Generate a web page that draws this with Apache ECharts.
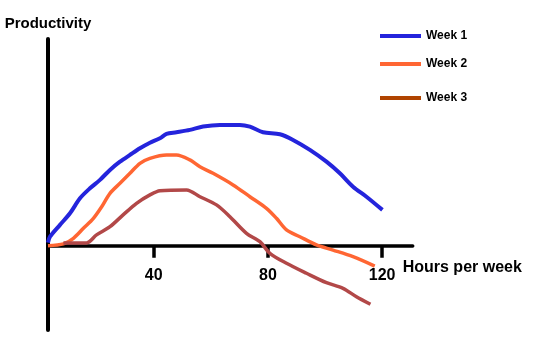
<!DOCTYPE html>
<html><head><meta charset="utf-8">
<script src="https://cdn.jsdelivr.net/npm/echarts@6/dist/echarts.min.js"></script>
<style>html,body{margin:0;padding:0;background:#fff}#c{width:545px;height:340px}</style>
</head><body><div id="c"></div>
<script>
const seriesNames = ['Week 1', 'Week 2', 'Week 3'];
const xTickValues = [40, 80, 120];
const xAxisTitle = 'Hours per week';
const yAxisTitle = 'Productivity';

const week1 = [[3,1.5],[3.7,4.5],[7.2,10.4],[10.7,16.2],[14.2,23.7],[17.7,28.7],[21.2,32.9],[24.7,37.9],[28.2,42],[31.7,45.4],[35.2,48.7],[38.7,51.5],[42.2,53.7],[44.5,55.9],[48,56.7],[52.7,57.9],[57.3,59.6],[63.2,60.4],[70.2,60.4],[73.7,59.5],[78.3,56.7],[84.2,55.7],[88.8,52.9],[94.7,47.9],[100.5,42],[105.2,36.2],[109.8,29.5],[114.5,24.5],[120.1,17.9]];
const week2 = [[3,0],[8.4,0.9],[11.9,3.7],[15.4,8.7],[18.9,13.7],[21.8,19.5],[24.7,26.2],[28.2,31.2],[31.7,36.2],[35.2,41.2],[38.7,43.7],[44.5,45.4],[48,45.4],[52.7,42.9],[56.2,39.5],[60.8,36.2],[67.8,30.4],[73.7,24.5],[79.5,18.7],[83,13.7],[86.5,7.9],[91.2,4.5],[97,0.4],[102.8,-2.2],[109.8,-5.5],[117.4,-10.2]];
const week3 = [[8.4,1.4],[16.5,1.4],[20,5.4],[24.7,9.5],[29.3,15.4],[34,21.2],[38.7,25.4],[42.2,27.5],[51.5,27.9],[56.2,24.5],[62,20.4],[66.7,14.5],[72.5,6.2],[77.2,2],[80.7,-3.8],[86.5,-8.8],[93.5,-13.8],[100.5,-18.5],[106.3,-21.3],[111,-25.5],[115.9,-29.3]];

const lineColors = ['#2424DC', '#FF6633', '#B24848'];
const legendColors = ['#2424DC', '#FF6633', '#B04400'];
const FONT = '"Liberation Sans", Arial, sans-serif';

const seriesData = [week1, week2, week3];
const legendTops = [30, 58, 92];

const chart = echarts.init(document.getElementById('c'), null, {renderer: 'canvas'});
chart.setOption({
  animation: false,
  backgroundColor: '#fff',
  grid: {left: 48, right: 132.3, top: 39, bottom: 10, containLabel: false, outerBoundsMode: 'none'},
  legend: seriesNames.map((n, i) => ({
    data: [{name: n, itemStyle: {color: legendColors[i]}}],
    left: 380, top: legendTops[i], padding: 0,
    icon: 'rect', itemWidth: 41, itemHeight: 4,
    textStyle: {fontFamily: FONT, fontWeight: 'bold', fontSize: 12, color: '#000'}
  })),
  xAxis: {
    type: 'value', min: 3, max: 130.7,
    name: xAxisTitle, nameLocation: 'end', nameGap: -10,
    nameTextStyle: {fontFamily: FONT, fontWeight: 'bold', fontSize: 16, color: '#000', align: 'left', verticalAlign: 'top', padding: [14, 0, 0, 0]},
    axisLine: {show: true, onZero: true, lineStyle: {color: '#000', width: 3.5}},
    axisTick: {show: true, customValues: xTickValues, length: 12, lineStyle: {color: '#000', width: 3.5}},
    axisLabel: {show: true, customValues: xTickValues, hideOverlap: false, margin: -62.5, fontFamily: FONT, fontWeight: 'bold', fontSize: 16, color: '#000'},
    splitLine: {show: false}
  },
  yAxis: {
    type: 'value', min: -42.15, max: 103.35,
    name: yAxisTitle, nameLocation: 'end', nameGap: 8,
    nameTextStyle: {fontFamily: FONT, fontWeight: 'bold', fontSize: 15, color: '#000'},
    axisLine: {show: true, onZero: false, lineStyle: {color: '#000', width: 4}},
    axisTick: {show: false},
    axisLabel: {show: false},
    splitLine: {show: false}
  },
  series: seriesNames.map((n, i) => ({
    name: n, type: 'line', data: seriesData[i],
    showSymbol: false, smooth: 0.3,
    lineStyle: {color: lineColors[i], width: i === 0 ? 4 : 3.5},
    itemStyle: {color: lineColors[i]},
    z: 3 + i
  }))
});
</script></body></html>
